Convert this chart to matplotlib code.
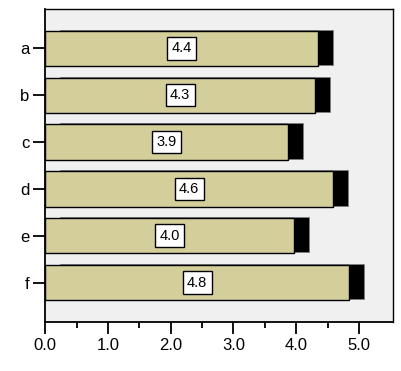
import matplotlib
matplotlib.use("Agg")
import matplotlib.pyplot as plt
from matplotlib.transforms import offset_copy
from matplotlib.ticker import FixedLocator

categories = ["a", "b", "c", "d", "e", "f"]
values = [4.35, 4.30, 3.87, 4.59, 3.97, 4.84]
labels = ["4.4", "4.3", "3.9", "4.6", "4.0", "4.8"]
xticks = [0, 1, 2, 3, 4, 5]
xticklabels = ["0.0", "1.0", "2.0", "3.0", "4.0", "5.0"]
xminor = [0.5, 1.5, 2.5, 3.5, 4.5]

plt.rcParams['font.family'] = ['Liberation Sans', 'DejaVu Sans']

fig = plt.figure(figsize=(4.01, 3.71), dpi=100)
ax = fig.add_axes([0.113, 0.133, 0.868, 0.842])
ax.set_facecolor('#f0f0f0')

pos = list(range(len(categories)))
shadow_tr = offset_copy(ax.transData, fig=fig, x=15, y=1, units='dots')
ax.barh(pos, values, height=0.75, color='black', edgecolor='#808080',
        linewidth=0.5, transform=shadow_tr, zorder=2)
ax.barh(pos, values, height=0.75, color='#d4cf9a', edgecolor='black',
        linewidth=1.0, zorder=3)

for p, v, lab in zip(pos, values, labels):
    ax.text(v / 2, p, lab, ha='center', va='center', fontsize=10.5, zorder=4,
            bbox=dict(boxstyle='square,pad=0.3', facecolor='white',
                      edgecolor='black', linewidth=1.0))

ax.set_xlim(0, 5.55)
ax.set_ylim(5.83, -0.83)
ax.set_yticks(pos)
ax.set_yticklabels(categories)
ax.set_xticks(xticks)
ax.set_xticklabels(xticklabels)
ax.xaxis.set_minor_locator(FixedLocator(xminor))
ax.tick_params(axis='both', which='major', length=8.5, width=1.3,
               labelsize=12, pad=3)
ax.tick_params(axis='x', which='minor', length=4.5, width=1.3)
for s in ax.spines.values():
    s.set_linewidth(1.0)
    s.set_color('black')
ax.spines['left'].set_linewidth(1.3)
ax.spines['bottom'].set_linewidth(1.3)

fig.savefig("out.png", dpi=100)
